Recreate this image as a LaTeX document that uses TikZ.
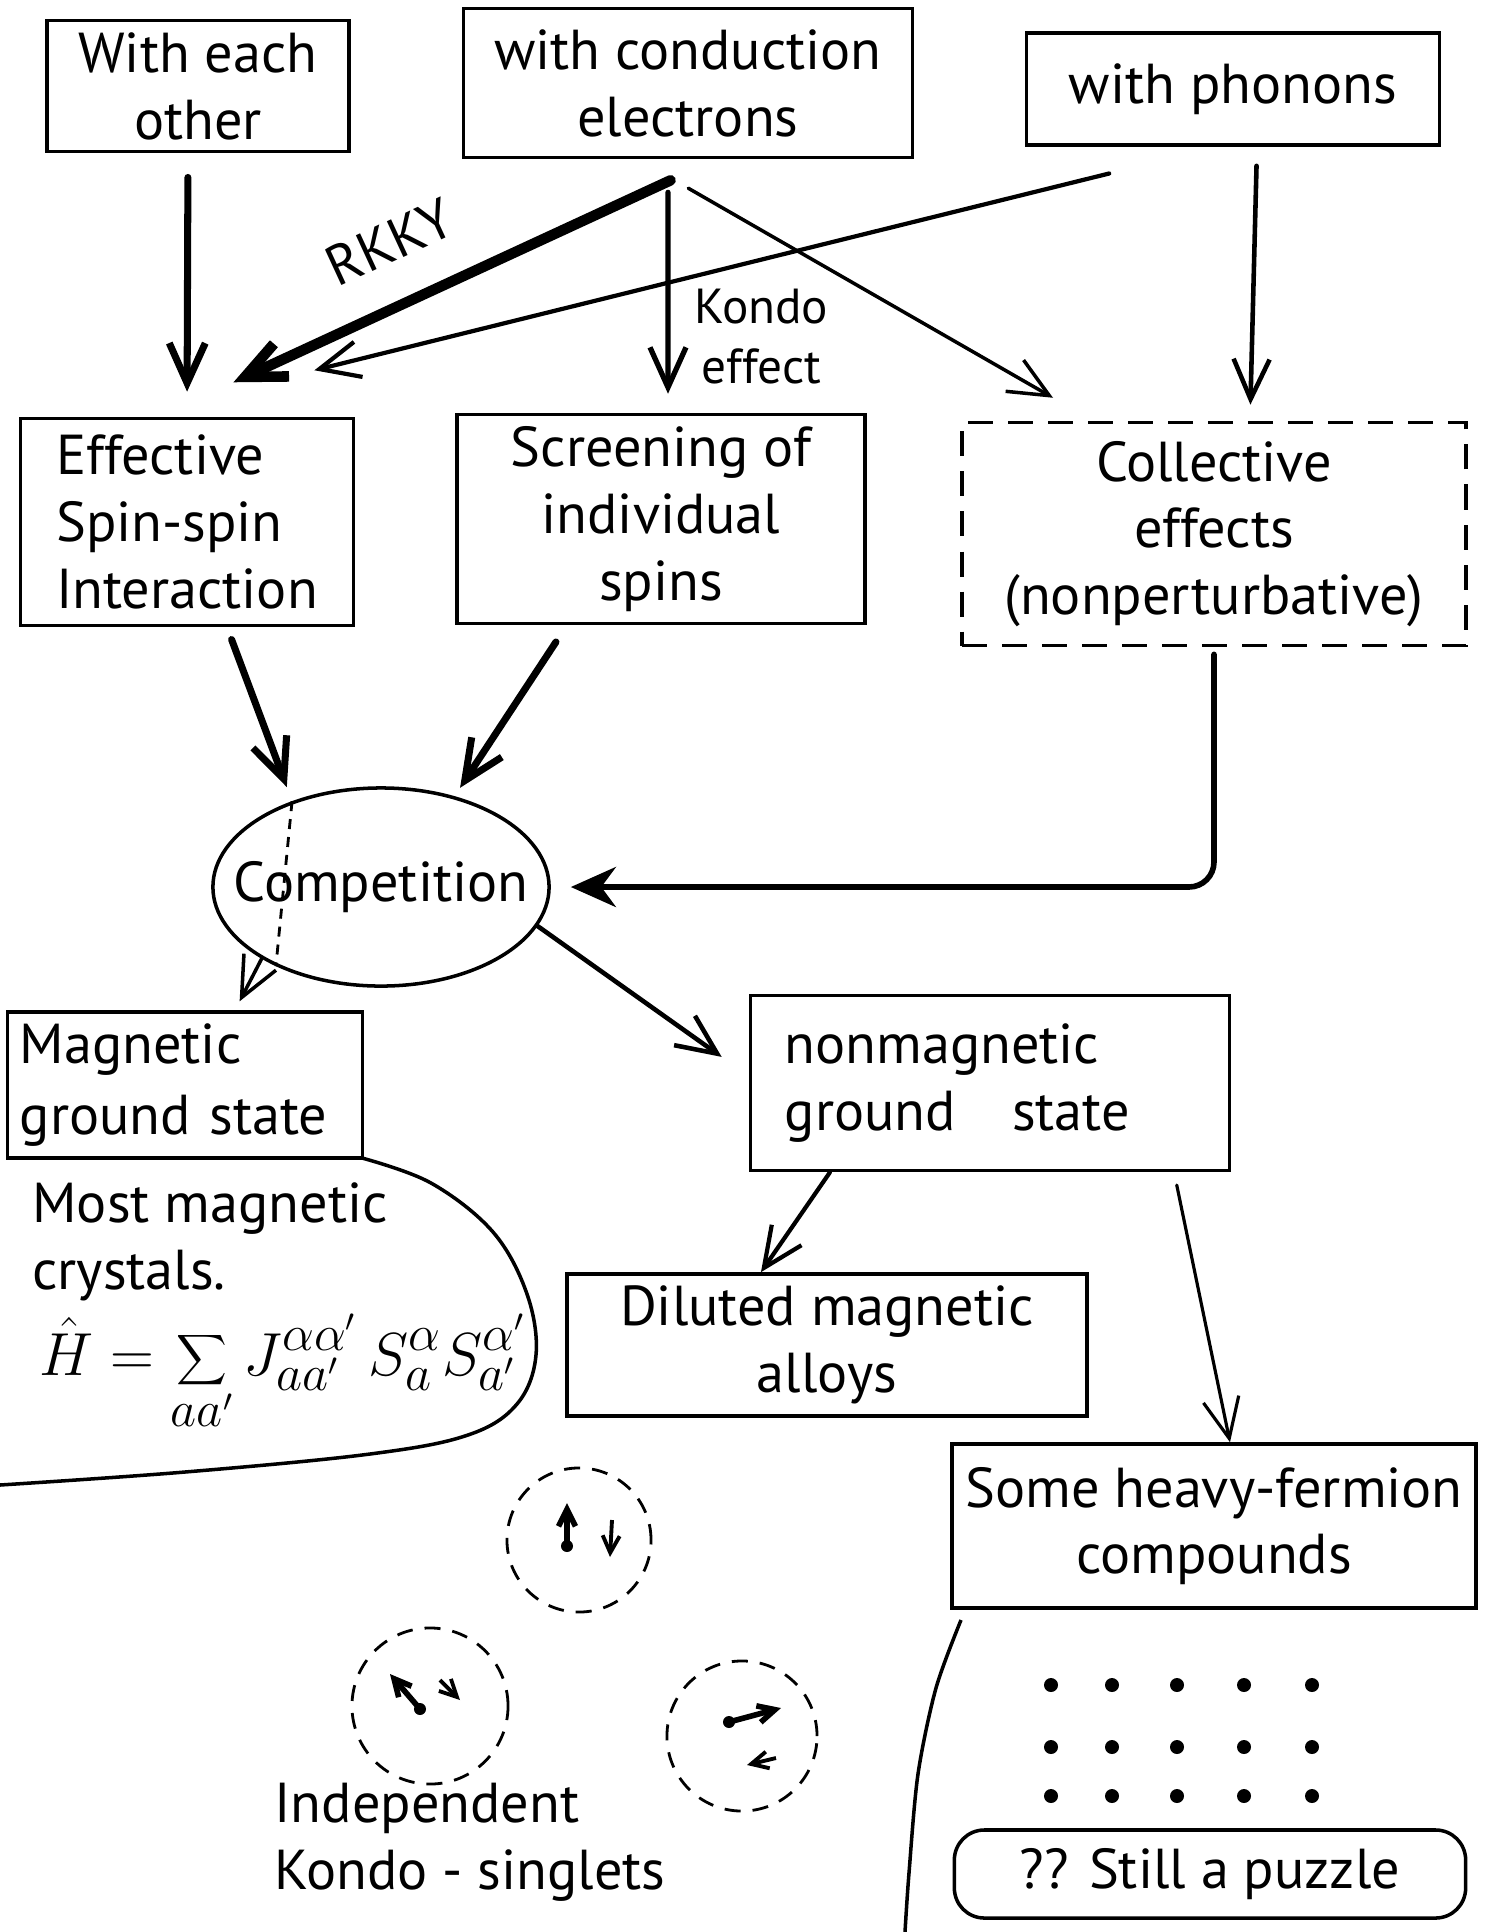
\documentclass[tikz,border=0pt]{standalone}
\usepackage{fontspec}
\setmainfont{PT Sans}
\usetikzlibrary{arrows.meta,shapes.geometric}

\begin{document}
\begin{tikzpicture}[x=0.01cm, y=-0.01cm, font=\fontsize{16}{19}\selectfont,
  box/.style={draw, line width=1pt, inner sep=0.12cm, align=center},
  dashbox/.style={box, dash pattern=on 0.25cm off 0.15cm},
  arr/.style={draw, ->, >={Straight Barb[length=0.4cm,width=0.36cm]}, line cap=round, line join=round},
  spin/.style={->, >={Straight Barb[length=0.17cm,width=0.17cm]}, line width=1.6pt},
  kondo/.style={draw, line width=0.8pt, dash pattern=on 0.16cm off 0.12cm}]
\useasboundingbox (0,0) rectangle (1487,1932);

\node[box, minimum width=3.02cm, minimum height=1.23cm] (each) at (198,86) {With each\\other};
\node[box, minimum width=4.49cm, minimum height=1.49cm] (cond) at (688,83) {with conduction\\electrons};
\node[box, minimum width=4.13cm, minimum height=1.12cm] (phon) at (1233,89) {with phonons};

\node[box, minimum width=3.33cm, minimum height=2.07cm, align=left] (eff) at (187,522) {Effective\\Spin-spin\\Interaction};
\node[box, minimum width=4.08cm, minimum height=1.99cm] (scr) at (661,519) {Screening of\\individual\\spins};
\node[dashbox, minimum width=5.04cm, minimum height=2.23cm] (coll) at (1214,534) {Collective\\effects\\(nonperturbative)};

\node[draw, ellipse, line width=1pt, minimum width=3.36cm, minimum height=1.98cm, inner sep=0pt] (comp) at (381,887) {\makebox[0pt]{Competition}};

\node[box, minimum width=3.55cm, minimum height=1.45cm, align=left, text width=3.3cm, font=\fontsize{16}{20}\selectfont] (mag) at (185,1085) {Magnetic\\ground state};
\node[box, minimum width=4.79cm, minimum height=1.75cm, align=left, text width=4.1cm] (nonmag) at (990,1083) {nonmagnetic\\ground\quad state};
\node[box, minimum width=5.2cm, minimum height=1.32cm] (dil) at (827,1345) {Diluted magnetic\\alloys};
\node[box, minimum width=5.24cm, minimum height=1.64cm] (heavy) at (1214,1526) {Some heavy-fermion\\compounds};
\node[box, rounded corners=0.3cm, minimum width=5.11cm, minimum height=0.88cm] (puzzle) at (1210,1874) {?? Still a puzzle};

\node[anchor=north west, align=left] (most) at (20,1170) {Most magnetic\\crystals.};
\node[font=\fontsize{19}{21}\selectfont] (ham) at (283,1372) {$\displaystyle \hat H = \sum_{aa'} J_{aa'}^{\alpha\alpha'}\, S_a^{\alpha} S_{a'}^{\alpha'}$};
\node[align=left] (indep) at (470,1842) {Independent\\Kondo - singlets};

% interactions
\path[arr, line width=2pt, shorten <=0.24cm, shorten >=0.25cm] ([xshift=-0.1cm]each.south) -- (eff.north);
\path[arr, line width=3pt, shorten <=0.5cm, shorten >=0.82cm] ([xshift=0.28cm]cond.south) -- node[sloped, above=0.25cm, pos=0.54] {RKKY} ([xshift=-0.28cm]eff.north);
\path[arr, line width=1.5pt, shorten <=0.33cm, shorten >=0.19cm] ([xshift=-0.2cm]cond.south) -- node[pos=0.7, right=0.12cm, align=center, font=\fontsize{14}{17}\selectfont] {Kondo\\effect} ([xshift=0.07cm]scr.north);
\path[arr, line width=1.2pt, shorten <=1.11cm, shorten >=1.93cm] ([xshift=-0.16cm]phon.south) -- ([xshift=-0.6cm]eff.north);
\path[arr, line width=1pt, shorten <=0.58cm, shorten >=0.46cm] ([xshift=-0.5cm]cond.south) -- ([xshift=-1.21cm]coll.north);
\path[arr, line width=1.3pt, shorten <=0.19cm, shorten >=0.16cm] ([xshift=0.24cm]phon.south) -- ([xshift=0.36cm]coll.north);

% competition
\path[arr, line width=2pt, shorten <=0.13cm, shorten >=0.15cm] ([xshift=0.4cm]eff.south) -- (comp.136);
\path[arr, line width=2pt, shorten <=0.2cm, shorten >=0.1cm] ([xshift=-0.94cm]scr.south) -- (comp.51);
\path[draw, line width=0.8pt, dash pattern=on 0.1cm off 0.08cm] (comp.136) -- (comp.-143);
\path[arr, line width=1.6pt, rounded corners=0.25cm, shorten <=0.07cm, shorten >=0.2cm, -{Stealth[length=0.45cm,width=0.4cm]}] (coll.south) |- (comp.east);

% ground states
\path[arr, line width=1pt, shorten >=0.1cm] (comp.211) -- ([xshift=0.5cm]mag.north);
\path[arr, line width=1.3pt, shorten >=0.33cm] (comp.-14) -- ([yshift=0.07cm]nonmag.west);
\path[arr, line width=1.2pt] ([xshift=-1.6cm]nonmag.south) -- ([xshift=-0.66cm]dil.north);
\path[arr, line width=0.9pt, shorten <=0.13cm] ([xshift=1.84cm]nonmag.south) -- ([xshift=0.16cm]heavy.north);

% regions
\draw[line width=1pt] plot[smooth, tension=0.6] coordinates {(362,1158) (431,1183) (493,1232) (527,1294) (536,1355) (517,1404) (468,1435) (370,1454) (185,1472) (0,1485)};
\draw[line width=1pt] plot[smooth] coordinates {(961,1620) (936,1688) (918,1774) (909,1873) (905,1932)};

% lattice
\foreach \x in {1051,1112,1177,1244,1312}
  \foreach \y in {1685,1747,1796}
    \fill (\x,\y) circle (0.07cm);

% Kondo singlets
\draw[kondo] (579,1540) circle (0.72cm);
\fill (567,1546) circle (0.06cm);
\draw[spin] (567,1546) -- (567,1503);
\draw[spin, line width=1.1pt] (612,1520) -- (610,1557);

\draw[kondo] (430,1706) circle (0.78cm);
\fill (420,1709) circle (0.06cm);
\draw[spin] (420,1709) -- (390,1674);
\draw[spin, line width=1.1pt] (440,1680) -- (460,1700);

\draw[kondo] (742,1736) circle (0.75cm);
\fill (729,1722) circle (0.06cm);
\draw[spin] (729,1722) -- (781,1708);
\draw[spin, line width=1.1pt] (776,1758) -- (747,1765);
\end{tikzpicture}
\end{document}
